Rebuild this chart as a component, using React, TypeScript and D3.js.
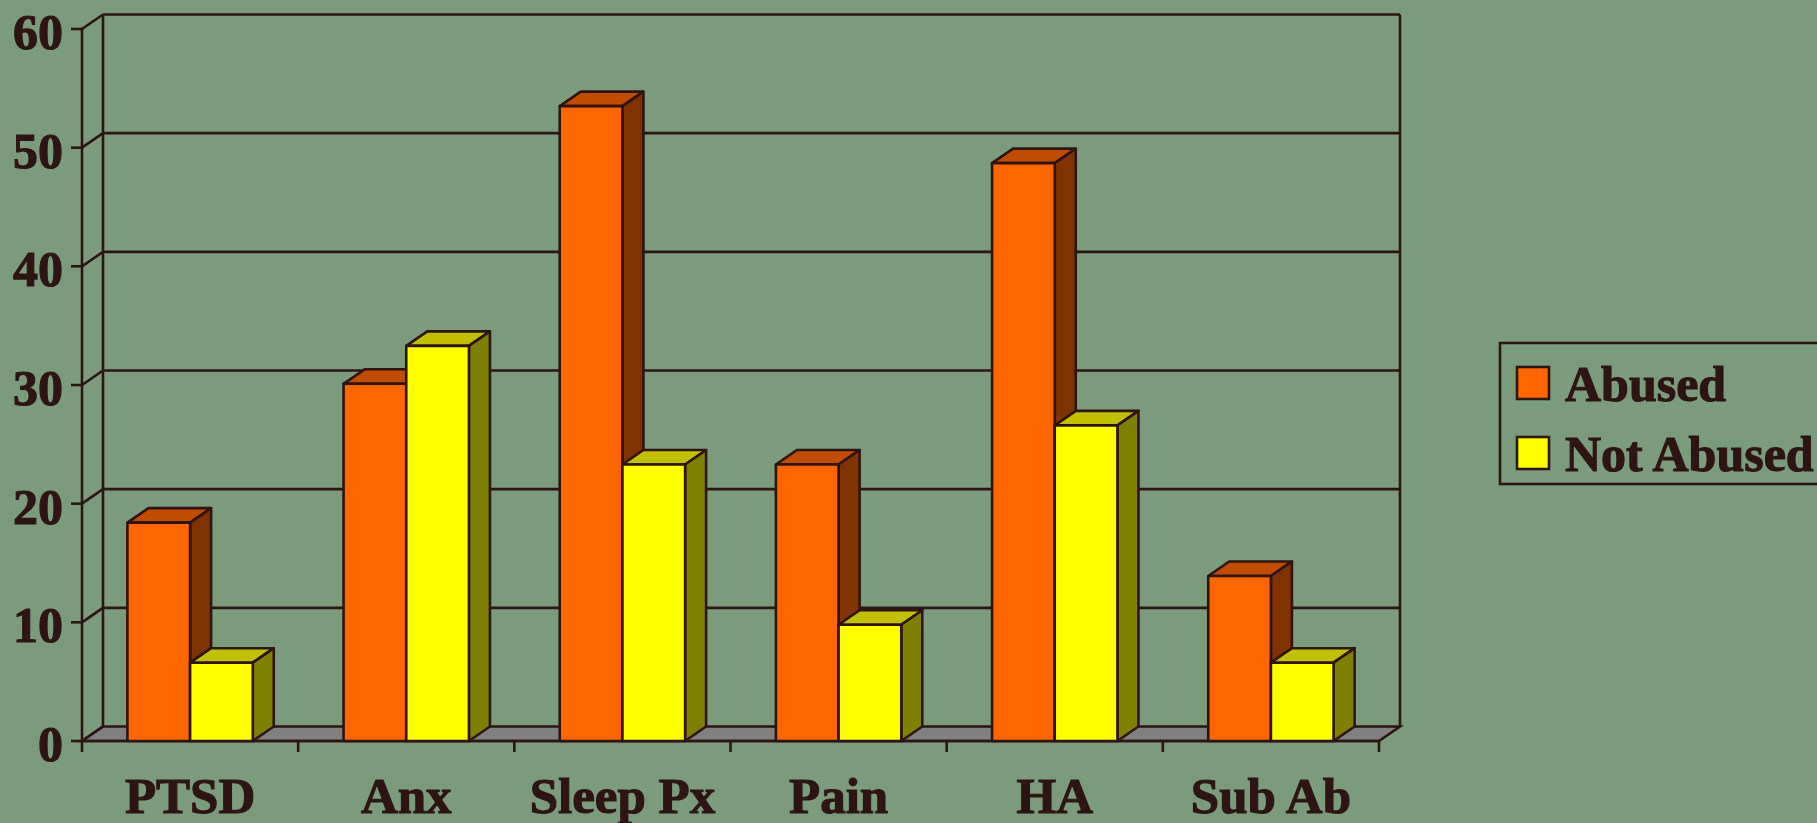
import React from "react";
import * as d3 from "d3";

const categories = ["PTSD", "Anx", "Sleep Px", "Pain", "HA", "Sub Ab"];
const seriesNames = ["Abused", "Not Abused"];
const abused = [18.4, 30.1, 53.5, 23.3, 48.7, 13.9];
const notAbused = [6.6, 33.3, 23.3, 9.8, 26.6, 6.6];
const yTicks = [0, 10, 20, 30, 40, 50, 60];

const W = 1817, H = 823;
const BG = "#7b9c7c";
const INK = "#2e1412";
const FONT = "'Liberation Serif', 'Times New Roman', serif";
// front / top / side shades per series
const shades = [
  ["#ff6600", "#c04c00", "#803300"],
  ["#ffff00", "#c0c000", "#808000"],
];

export default function App() {
  const dx = 21, dy = 14.5;
  const x = d3.scaleBand<string>().domain(categories).range([82, 1379]);
  const y = d3.scaleLinear().domain([0, 60]).range([741, 29]);
  const bw = x.bandwidth() * 0.29;
  const off = (x.bandwidth() - 2 * bw) / 2;
  const y0 = y(0);
  const xl = 82, xr = 1379;
  const series = [abused, notAbused];
  const sw = 2.6;
  const txt = { fontFamily: FONT, fontWeight: "bold" as const, fill: INK, stroke: INK, strokeWidth: 1.1 };

  const pts = (p: [number, number][]) => p.map((q) => q.join(",")).join(" ");

  return (
    <div style={{ position: "absolute", left: 0, top: 0 }}>
      <svg width={W} height={H} style={{ display: "block", background: BG }}>
        {/* floor */}
        <polygon
          points={pts([[xl, y0], [xr, y0], [xr + dx, y0 - dy], [xl + dx, y0 - dy]])}
          fill="#808080" stroke={INK} strokeWidth={sw} />
        {/* back wall gridlines + left wall diagonals */}
        {yTicks.map((t) => (
          <g key={t}>
            {t > 0 && (
              <line x1={xl + dx} x2={xr + dx} y1={y(t) - dy} y2={y(t) - dy} stroke={INK} strokeWidth={sw} />
            )}
            <line x1={xl} x2={xl + dx} y1={y(t)} y2={y(t) - dy} stroke={INK} strokeWidth={sw} />
            <line x1={71} x2={xl} y1={y(t)} y2={y(t)} stroke={INK} strokeWidth={sw} />
            <text x={63} y={y(t) + 20} textAnchor="end" fontSize={50} {...txt}>{t}</text>
          </g>
        ))}
        <line x1={xl + dx} x2={xl + dx} y1={y(60) - dy} y2={y0 - dy} stroke={INK} strokeWidth={sw} />
        <line x1={xr + dx} x2={xr + dx} y1={y(60) - dy} y2={y0 - dy} stroke={INK} strokeWidth={sw} />
        {/* front axes */}
        <line x1={xl} x2={xl} y1={y(60)} y2={y0 + 11} stroke={INK} strokeWidth={sw} />
        <line x1={xl} x2={xr} y1={y0} y2={y0} stroke={INK} strokeWidth={sw} />
        {categories.map((c) => (
          <line key={c} x1={x(c)! + x.bandwidth()} x2={x(c)! + x.bandwidth()} y1={y0} y2={y0 + 11}
            stroke={INK} strokeWidth={sw} />
        ))}
        {/* bars */}
        {categories.map((c, i) => (
          <g key={c}>
            {series.map((s, k) => {
              const x0 = x(c)! + off + k * bw;
              const x1 = x0 + bw;
              const yv = y(s[i]);
              const [front, top, side] = shades[k];
              return (
                <g key={k} stroke={INK} strokeWidth={sw} strokeLinejoin="round">
                  <polygon points={pts([[x0, yv], [x0 + dx, yv - dy], [x1 + dx, yv - dy], [x1, yv]])} fill={top} />
                  <polygon points={pts([[x1, yv], [x1 + dx, yv - dy], [x1 + dx, y0 - dy], [x1, y0]])} fill={side} />
                  <rect x={x0} y={yv} width={bw} height={y0 - yv} fill={front} />
                </g>
              );
            })}
            <text x={x(c)! + x.bandwidth() / 2} y={813} textAnchor="middle" fontSize={51} {...txt}>{c}</text>
          </g>
        ))}
        {/* legend */}
        <rect x={1500} y={343} width={400} height={141} fill="none" stroke={INK} strokeWidth={sw} />
        {seriesNames.map((n, k) => (
          <g key={n}>
            <rect x={1517} y={367 + k * 70} width={32} height={32} fill={shades[k][0]} stroke={INK} strokeWidth={sw} />
            <text x={1565} y={401 + k * 70} fontSize={50} {...txt}>{n}</text>
          </g>
        ))}
      </svg>
    </div>
  );
}
